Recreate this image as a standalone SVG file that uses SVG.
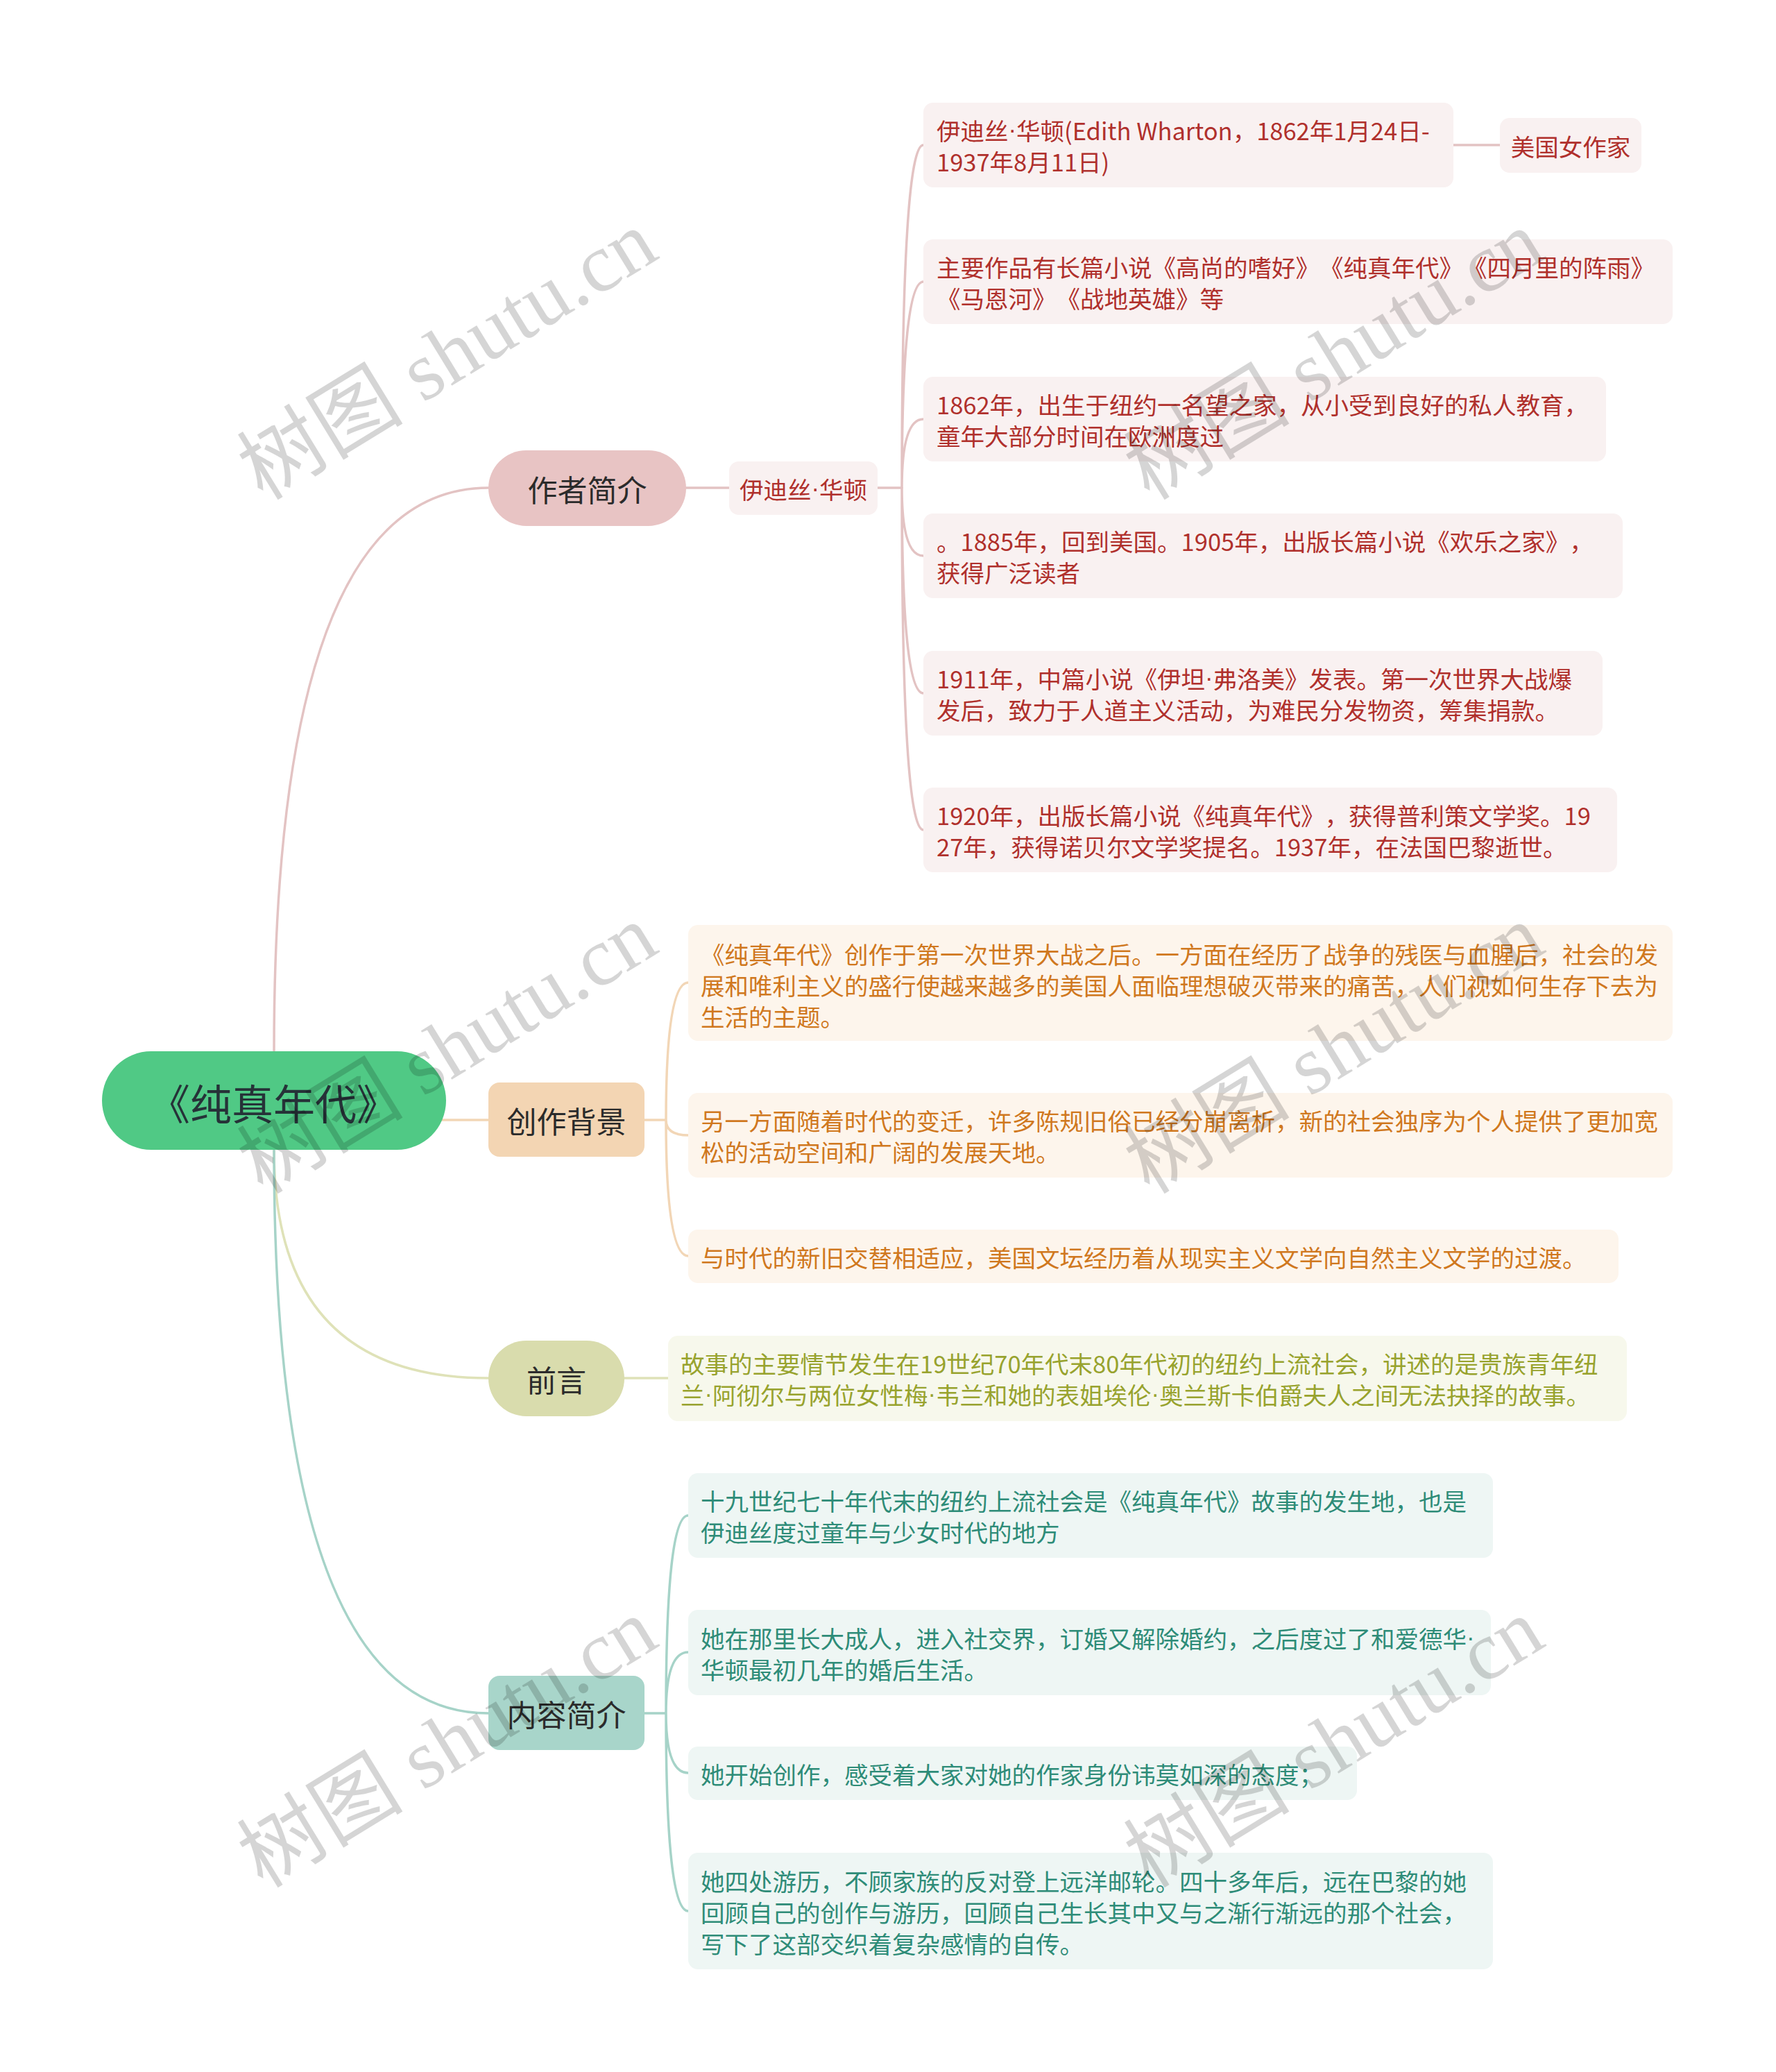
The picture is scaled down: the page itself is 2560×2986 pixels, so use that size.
<svg xmlns="http://www.w3.org/2000/svg" width="2560" height="2986" viewBox="0 0 2560 2986">
<style>
text{font-family:"Noto Sans CJK SC","Noto Sans",sans-serif;dominant-baseline:central;text-spacing-trim:space-all}
.d{font-family:"Liberation Sans",sans-serif}
.main{font-size:43px;fill:#2b2b2b;text-anchor:middle}
.leaf{font-size:34.5px}
.red .box{fill:#f9f1f1}.red text{fill:#b0302c}
.org .box{fill:#fdf5ec}.org text{fill:#d0781e}
.olv .box{fill:#f7f8ec}.olv text{fill:#98a32e}
.tea .box{fill:#eef6f4}.tea text{fill:#2e8c78}
.c{fill:none;stroke-width:3.5;stroke-linecap:round}
.cr{stroke:#e3c3c3}.co{stroke:#f2d6b6}.cl{stroke:#dfe2b8}.ct{stroke:#a6d3c8}
.wm{font-family:"Liberation Serif","Noto Sans CJK SC",serif;font-size:120px;fill:#000;opacity:0.16;text-anchor:middle}
</style>
<rect width="2560" height="2986" fill="#ffffff"/>
<g id="connectors">
<path class="c cr" stroke-width="4" d="M395,1514 Q395,703 704,703"/>
<path class="c co" stroke-width="4" d="M620,1614 L704,1614"/>
<path class="c cl" stroke-width="4" d="M395,1658 Q395,1986 704,1986"/>
<path class="c ct" stroke-width="4" d="M395,1658 Q395,2469 704,2469"/>
<path class="c cr" d="M989,703 L1051,703 M1265,703 L1300,703"/>
<path class="c cr" d="M1300,703 Q1300,209 1331,209 M1300,703 Q1300,406 1331,406 M1300,703 Q1300,604 1331,604 M1300,703 Q1300,801 1331,801 M1300,703 Q1300,999 1331,999 M1300,703 Q1300,1196 1331,1196"/>
<path class="c cr" d="M2095,209 L2162,209"/>
<path class="c co" d="M929,1614 L960,1614 M960,1614 Q960,1416 992,1416 M960,1614 Q960,1636 992,1636 M960,1614 Q960,1810 992,1810"/>
<path class="c cl" d="M900,1986 L963,1986"/>
<path class="c ct" d="M929,2469 L960,2469 M960,2469 Q960,2184 992,2184 M960,2469 Q960,2381 992,2381 M960,2469 Q960,2555 992,2555 M960,2469 Q960,2754 992,2754"/>
</g>
<g id="root">
<rect x="147" y="1515" width="496" height="142" rx="71" fill="#50c985"/>
<text x="394" y="1587" font-size="60" fill="#263238" text-anchor="middle">《纯真年代》</text>
</g>
<g id="n-author">
<rect x="704" y="649" width="285" height="109" rx="54.5" fill="#e8c4c4"/>
<text class="main" x="846.5" y="703.5">作者简介</text>
</g>
<g id="n-bg">
<rect x="704" y="1560" width="225" height="107" rx="16" fill="#f3d5b3"/>
<text class="main" x="816.5" y="1613.5">创作背景</text>
</g>
<g id="n-pref">
<rect x="704" y="1932" width="196" height="109" rx="54.5" fill="#d9dcad"/>
<text class="main" x="802" y="1986.5">前言</text>
</g>
<g id="n-content">
<rect x="704" y="2415" width="225" height="107" rx="16" fill="#a8d5ca"/>
<text class="main" x="816.5" y="2468.5">内容简介</text>
</g>
<g class="red leaf">
<g id="n-edith">
<rect class="box" x="1051" y="665" width="214" height="77" rx="14"/>
<text x="1158" y="703.5" text-anchor="middle">伊迪丝<tspan class="d">·</tspan>华顿</text>
</g>
<g id="r1">
<rect class="box" x="1331" y="148" width="764" height="122" rx="14"/>
<text x="1350" y="187">伊迪丝<tspan class="d">·</tspan>华顿(Edith Wharton，1862年1月24日-</text>
<text x="1350" y="232">1937年8月11日)</text>
</g>
<g id="r2">
<rect class="box" x="2162" y="170" width="204" height="79" rx="14"/>
<text x="2264" y="209.5" text-anchor="middle">美国女作家</text>
</g>
<g id="r3">
<rect class="box" x="1331" y="345" width="1080" height="122" rx="14"/>
<text x="1350" y="384">主要作品有长篇小说《高尚的嗜好》《纯真年代》《四月里的阵雨》</text>
<text x="1350" y="429">《马恩河》《战地英雄》等</text>
</g>
<g id="r4">
<rect class="box" x="1331" y="543" width="984" height="122" rx="14"/>
<text x="1350" y="582">1862年，出生于纽约一名望之家，从小受到良好的私人教育，</text>
<text x="1350" y="627">童年大部分时间在欧洲度过</text>
</g>
<g id="r5">
<rect class="box" x="1331" y="740" width="1008" height="122" rx="14"/>
<text x="1350" y="779">。1885年，回到美国。1905年，出版长篇小说《欢乐之家》，</text>
<text x="1350" y="824">获得广泛读者</text>
</g>
<g id="r6">
<rect class="box" x="1331" y="938" width="979" height="122" rx="14"/>
<text x="1350" y="977">1911年，中篇小说《伊坦<tspan class="d">·</tspan>弗洛美》发表。第一次世界大战爆</text>
<text x="1350" y="1022">发后，致力于人道主义活动，为难民分发物资，筹集捐款。</text>
</g>
<g id="r7">
<rect class="box" x="1331" y="1135" width="1000" height="122" rx="14"/>
<text x="1350" y="1174">1920年，出版长篇小说《纯真年代》，获得普利策文学奖。19</text>
<text x="1350" y="1219">27年，获得诺贝尔文学奖提名。1937年，在法国巴黎逝世。</text>
</g>
</g>
<g class="org leaf">
<g id="o1">
<rect class="box" x="992" y="1333" width="1419" height="167" rx="14"/>
<text x="1010" y="1374">《纯真年代》创作于第一次世界大战之后。一方面在经历了战争的残医与血腥后，社会的发</text>
<text x="1010" y="1419">展和唯利主义的盛行使越来越多的美国人面临理想破灭带来的痛苦，人们视如何生存下去为</text>
<text x="1010" y="1464">生活的主题。</text>
</g>
<g id="o2">
<rect class="box" x="992" y="1575" width="1419" height="122" rx="14"/>
<text x="1010" y="1614">另一方面随着时代的变迁，许多陈规旧俗已经分崩离析，新的社会独序为个人提供了更加宽</text>
<text x="1010" y="1659">松的活动空间和广阔的发展天地。</text>
</g>
<g id="o3">
<rect class="box" x="992" y="1772" width="1341" height="77" rx="14"/>
<text x="1010" y="1811">与时代的新旧交替相适应，美国文坛经历着从现实主义文学向自然主义文学的过渡。</text>
</g>
</g>
<g class="olv leaf">
<g id="p1">
<rect class="box" x="963" y="1925" width="1382" height="123" rx="14"/>
<text x="981" y="1964">故事的主要情节发生在19世纪70年代末80年代初的纽约上流社会，讲述的是贵族青年纽</text>
<text x="981" y="2009">兰<tspan class="d">·</tspan>阿彻尔与两位女性梅<tspan class="d">·</tspan>韦兰和她的表姐埃伦<tspan class="d">·</tspan>奥兰斯卡伯爵夫人之间无法抉择的故事。</text>
</g>
</g>
<g class="tea leaf">
<g id="t1">
<rect class="box" x="992" y="2123" width="1160" height="122" rx="14"/>
<text x="1010" y="2162">十九世纪七十年代末的纽约上流社会是《纯真年代》故事的发生地，也是</text>
<text x="1010" y="2207">伊迪丝度过童年与少女时代的地方</text>
</g>
<g id="t2">
<rect class="box" x="992" y="2320" width="1157" height="123" rx="14"/>
<text x="1010" y="2360">她在那里长大成人，进入社交界，订婚又解除婚约，之后度过了和爱德华<tspan class="d">·</tspan></text>
<text x="1010" y="2405">华顿最初几年的婚后生活。</text>
</g>
<g id="t3">
<rect class="box" x="992" y="2517" width="964" height="77" rx="14"/>
<text x="1010" y="2556">她开始创作，感受着大家对她的作家身份讳莫如深的态度；</text>
</g>
<g id="t4">
<rect class="box" x="992" y="2670" width="1160" height="168" rx="14"/>
<text x="1010" y="2710">她四处游历，不顾家族的反对登上远洋邮轮。四十多年后，远在巴黎的她</text>
<text x="1010" y="2755">回顾自己的创作与游历，回顾自己生长其中又与之渐行渐远的那个社会，</text>
<text x="1010" y="2800">写下了这部交织着复杂感情的自传。</text>
</g>
</g>
<g id="watermarks">
<text class="wm" transform="translate(645,512) rotate(-31.5)">树图 shutu.cn</text>
<text class="wm" transform="translate(1923,512) rotate(-31.5)">树图 shutu.cn</text>
<text class="wm" transform="translate(645,1512) rotate(-31.5)">树图 shutu.cn</text>
<text class="wm" transform="translate(1923,1512) rotate(-31.5)">树图 shutu.cn</text>
<text class="wm" transform="translate(645,2512) rotate(-31.5)">树图 shutu.cn</text>
<text class="wm" transform="translate(1923,2512) rotate(-31.5)">树图 shutu.cn</text>
</g>
</svg>
